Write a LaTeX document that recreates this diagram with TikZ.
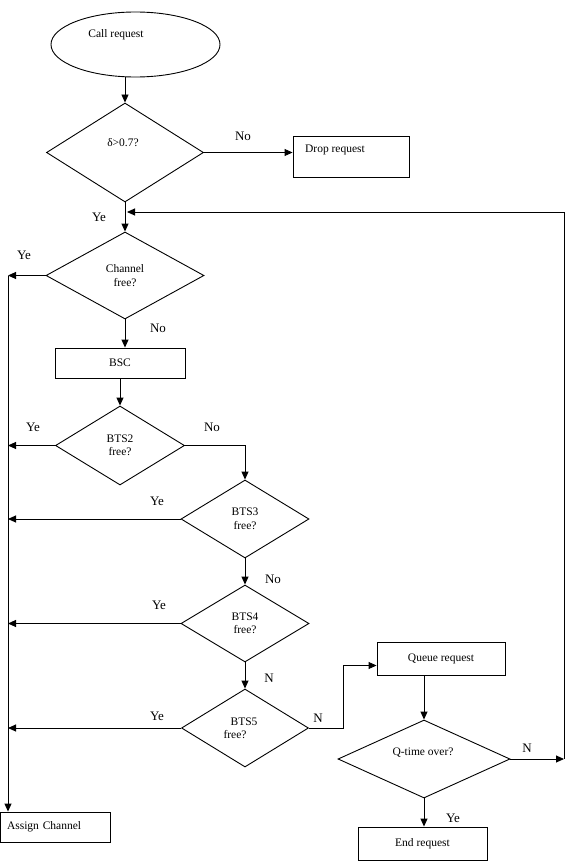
\documentclass[tikz,border=0pt]{standalone}
\usepackage{fontspec}
\setmainfont{Liberation Serif}
\usetikzlibrary{shapes.geometric,arrows.meta}
\begin{document}
\begin{tikzpicture}[x=1pt,y=-1pt,line width=0.9pt,
  >={Triangle[length=8pt,width=7pt]},
  box/.style={rectangle,draw=black,inner sep=0pt,align=center,font=\fontsize{11.5}{13.5}\selectfont},
  dia/.style={diamond,draw=black,aspect=1,inner sep=0pt,align=center,font=\fontsize{11.5}{13.5}\selectfont},
  txt/.style={inner sep=0pt,align=center,font=\fontsize{11.5}{13.5}\selectfont},
  lbl/.style={inner sep=0pt,font=\fontsize{13}{15}\selectfont}]
\useasboundingbox (0,0) rectangle (566,864);
\node[ellipse,draw=black,minimum width=169pt,minimum height=65pt] (call) at (135.5,44.5) {};
\node[txt] (calltxt) at (116,35) {Call request};
\node[dia,minimum width=157pt,minimum height=99pt] (delta) at (125,152.5) {};
\node[txt] (deltatxt) at (123,143) {δ>0.7?};
\draw[->] (call.south -| delta.north)--(delta.north);
\node[box,minimum width=116pt,minimum height=41pt] (drop) at (351,156.5) {};
\node[txt] (droptxt) at (335,150) {Drop request};
\draw[->] (delta.east)--(delta.east -| drop.west);
\node[lbl] (nodelta) at (243,136) {No};
\node[dia,minimum width=158pt,minimum height=87pt] (chan) at (125,275.5) {Channel\\free?};
\draw[->] (delta.south)--(chan.north);
\node[lbl] (yedelta) at (99,217) {Ye};
\coordinate (back) at (127,212);
\coordinate (bus) at (8,275.5);
\draw[->] (chan.west)--(chan.west -| bus);
\node[lbl] (yechan) at (24,255) {Ye};
\node[box,minimum width=130pt,minimum height=30pt] (bsc) at (120,363) {BSC};
\draw[->] (chan.south)--(chan.south |- bsc.north);
\node[lbl] (nochan) at (158,328) {No};
\node[dia,minimum width=129pt,minimum height=79pt] (bts2) at (120,445.5) {BTS2\\free?};
\draw[->] (bsc.south)--(bts2.north);
\draw[->] (bts2.west)--(bts2.west -| bus);
\node[lbl] (yebts2) at (33,427) {Ye};
\node[lbl] (nobts2) at (212,427) {No};
\node[dia,minimum width=128pt,minimum height=78pt] (bts3) at (245,519) {BTS3\\free?};
\draw[->] (bts2.east) -| (bts3.north);
\draw[->] (bts3.west)--(bts3.west -| bus);
\node[lbl] (yebts3) at (157,501) {Ye};
\node[lbl] (nobts3) at (273,579) {No};
\node[dia,minimum width=128pt,minimum height=77pt] (bts4) at (245,623.5) {BTS4\\free?};
\draw[->] (bts3.south)--(bts4.north);
\draw[->] (bts4.west)--(bts4.west -| bus);
\node[lbl] (yebts4) at (159,605) {Ye};
\node[lbl] (nbts4) at (269,678) {N};
\node[dia,minimum width=127pt,minimum height=78pt] (bts5) at (245,728) {};
\node[txt] (bts5txt) at (244,722) {BTS5};
\node[txt] (bts5free) at (235,735) {free?};
\draw[->] (bts4.south)--(bts5.north);
\draw[->] (bts5.west)--(bts5.west -| bus);
\node[lbl] (yebts5) at (157,716) {Ye};
\node[lbl] (nbts5) at (318,718) {N};
\node[box,minimum width=128pt,minimum height=33pt] (queue) at (441,658.5) {Queue request};
\draw[->] (bts5.east)--++(34,0) |- ([yshift=-7pt]queue.west);
\node[dia,minimum width=172pt,minimum height=78pt] (qtime) at (424,759) {};
\node[txt] (qtimetxt) at (423,753) {Q-time over?};
\draw[->] (qtime.north |- queue.south)--(qtime.north);
\coordinate (qright) at (564,759);
\draw[->] (qtime.east)--(qright);
\draw[->] (qright) |- (back);
\node[lbl] (nqtime) at (527,748) {N};
\node[box,minimum width=129pt,minimum height=33pt] (endreq) at (422.5,843.5) {End request};
\draw[->] (qtime.south)--(qtime.south |- endreq.north);
\node[lbl] (yeqtime) at (453,818) {Ye};
\node[box,minimum height=30pt,text width=96pt,inner xsep=7pt,align=left] (assign) at (55,827) {Assign Channel};
\draw[->] (bus)--(bus |- assign.north);
\end{tikzpicture}
\end{document}
